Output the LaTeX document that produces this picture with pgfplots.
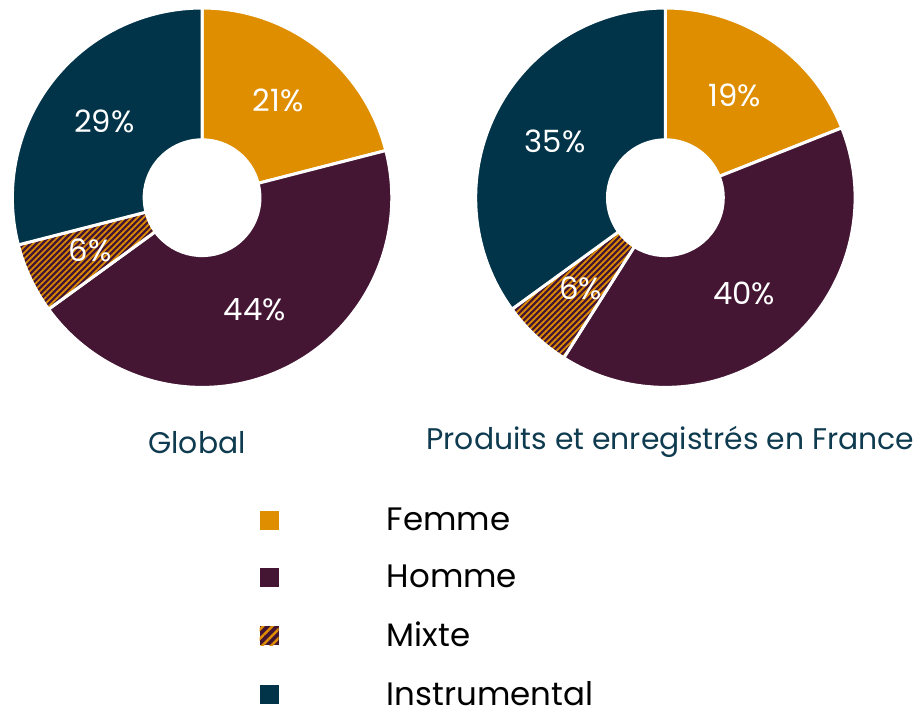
\documentclass[border=0pt]{standalone}
\usepackage{fontspec}
\setmainfont{Poppins}
\usepackage{pgfplots}
\pgfplotsset{compat=1.18}
\usepackage{pgfplotstable}
\usetikzlibrary{patterns.meta}
\definecolor{cF}{HTML}{DF8E00}
\definecolor{cH}{HTML}{441634}
\definecolor{cI}{HTML}{013449}
\definecolor{cT}{HTML}{0E3B4F}

\pgfplotstableread{
cat Global France
Femme 21 19
Homme 44 40
Mixte 6 6
Instrumental 29 35
}\data

\newcommand\getval[3]{\pgfplotstablegetelem{#1}{#2}\of\data\global\let#3\pgfplotsretval}
\getval{0}{Global}\gA \getval{1}{Global}\gB \getval{2}{Global}\gC \getval{3}{Global}\gD
\getval{0}{France}\fA \getval{1}{France}\fB \getval{2}{France}\fC \getval{3}{France}\fD
% cumulative angles (clockwise from 12 o'clock)
\pgfmathsetmacro\gSa{90}
\pgfmathsetmacro\gSb{\gSa-\gA*3.6}
\pgfmathsetmacro\gSc{\gSb-\gB*3.6}
\pgfmathsetmacro\gSd{\gSc-\gC*3.6}
\pgfmathsetmacro\gSe{\gSd-\gD*3.6}
\pgfmathsetmacro\fSa{90}
\pgfmathsetmacro\fSb{\fSa-\fA*3.6}
\pgfmathsetmacro\fSc{\fSb-\fB*3.6}
\pgfmathsetmacro\fSd{\fSc-\fC*3.6}
\pgfmathsetmacro\fSe{\fSd-\fD*3.6}

\tikzset{
  sF/.style={fill=cF},
  sH/.style={fill=cH},
  sI/.style={fill=cI},
  sM/.style={fill=cH, postaction={draw=none, pattern={Lines[angle=45,distance=0.085cm,line width=0.035cm]}, pattern color=cF}},
  sML/.style={fill=cH, postaction={draw=none, pattern={Lines[angle=45,distance=0.13cm,line width=0.05cm]}, pattern color=cF}},
}
% slice: cx cy start end style
\newcommand\slice[5]{%
  \path[#5] ([shift={(#3:3.8cm)}]axis cs:#1,#2) arc[start angle=#3, end angle=#4, radius=3.8cm]
     -- ([shift={(#4:1.16cm)}]axis cs:#1,#2) arc[start angle=#4, end angle=#3, radius=1.16cm] -- cycle;
  \draw[white, line width=0.06cm] ([shift={(#3:3.8cm)}]axis cs:#1,#2) arc[start angle=#3, end angle=#4, radius=3.8cm]
     -- ([shift={(#4:1.16cm)}]axis cs:#1,#2) arc[start angle=#4, end angle=#3, radius=1.16cm] -- cycle;
}
% label: cx cy start end text
\newcommand\plabel[5]{%
  \node[text=white, font=\fontsize{17.5pt}{20pt}\selectfont, inner sep=0pt] at ([shift={({(#3+#4)/2}:2.48cm)}]axis cs:#1,#2) {#5\%};
}

\begin{document}
\begin{tikzpicture}
\begin{axis}[
  x=0.02cm, y=0.02cm, xmin=0, xmax=915, ymin=0, ymax=704,
  hide axis, clip=false, scale only axis,
  legend image code/.code={\path[#1, draw=none] (0cm,-0.19cm) rectangle (0.38cm,0.19cm);},
  legend cell align=left,
  legend style={at={(axis cs:253,203)}, anchor=north west, draw=none, fill=none,
    font=\fontsize{18.5pt}{20pt}\selectfont, row sep=0.5cm,
    /tikz/every odd column/.append style={column sep=2.1cm}},
]
\path (axis cs:0,0) rectangle (axis cs:915,704);
\addlegendimage{sF}\addlegendentry{Femme}
\addlegendimage{sH}\addlegendentry{Homme}
\addlegendimage{sML}\addlegendentry{Mixte}
\addlegendimage{sI}\addlegendentry{Instrumental}

\slice{201}{506}{\gSa}{\gSb}{sF}
\slice{201}{506}{\gSb}{\gSc}{sH}
\slice{201}{506}{\gSc}{\gSd}{sM}
\slice{201}{506}{\gSd}{\gSe}{sI}
\plabel{201}{506}{\gSa}{\gSb}{\gA}
\plabel{201}{506}{\gSb}{\gSc}{\gB}
\plabel{201}{506}{\gSc}{\gSd}{\gC}
\plabel{201}{506}{\gSd}{\gSe}{\gD}

\slice{665}{506}{\fSa}{\fSb}{sF}
\slice{665}{506}{\fSb}{\fSc}{sH}
\slice{665}{506}{\fSc}{\fSd}{sM}
\slice{665}{506}{\fSd}{\fSe}{sI}
\plabel{665}{506}{\fSa}{\fSb}{\fA}
\plabel{665}{506}{\fSb}{\fSc}{\fB}
\plabel{665}{506}{\fSc}{\fSd}{\fC}
\plabel{665}{506}{\fSd}{\fSe}{\fD}

\node[text=cT, font=\fontsize{17pt}{20pt}\selectfont] at (axis cs:196,261) {Global};
\node[text=cT, font=\fontsize{17pt}{20pt}\selectfont, inner xsep=0pt] at (axis cs:670,261) {Produits et enregistrés en France};
\end{axis}
\end{tikzpicture}
\end{document}
